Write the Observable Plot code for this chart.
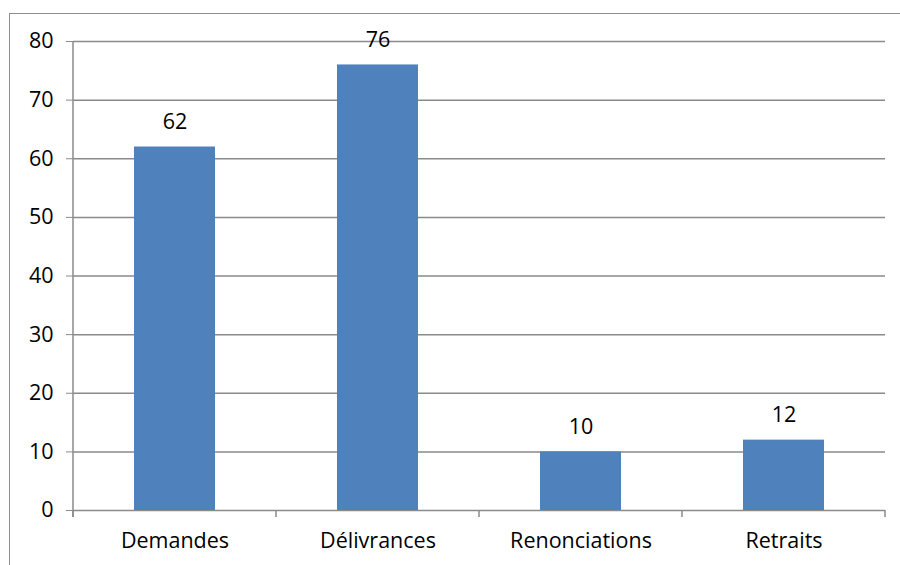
<!DOCTYPE html>
<html>
<head>
<meta charset="utf-8">
<script src="https://cdn.jsdelivr.net/npm/d3@7"></script>
<script src="https://cdn.jsdelivr.net/npm/@observablehq/plot@0.6"></script>
<style>
  html, body { margin: 0; padding: 0; background: #fff; }
  #wrap { position: relative; width: 900px; height: 565px; overflow: hidden; }
  #border { position: absolute; left: 9px; top: 13px; width: 1000px; height: 1000px; border: 1.5px solid #8e8e8e; box-sizing: border-box; }
  #chart { position: absolute; left: 0; top: 0; }
</style>
</head>
<body>
<div id="wrap"><div id="border"></div><div id="chart"></div></div>
<script>
const categories = ["Demandes", "Délivrances", "Renonciations", "Retraits"];
const values = [62, 76, 10, 12];
const yTicks = [0, 10, 20, 30, 40, 50, 60, 70, 80];

const data = categories.map((c, i) => ({category: c, value: values[i]}));
const gridColor = "#8a8a8a";
const font = "'Open Sans', sans-serif";
const fs = 21.5;

const plot = Plot.plot({
  width: 900,
  height: 565,
  marginLeft: 73,
  marginRight: 15,
  marginTop: 41,
  marginBottom: 55,
  style: {fontFamily: font, fontSize: fs + "px", color: "#000", background: "transparent"},
  x: {domain: categories, paddingInner: 0.6, paddingOuter: 0.3, label: null},
  y: {domain: [0, 80], ticks: yTicks, label: null},
  marks: [
    Plot.ruleY(yTicks, {stroke: gridColor, strokeWidth: 1.5}),
    Plot.barY(data, {x: "category", y: "value", fill: "#4F81BD"}),
    Plot.text(data, {x: "category", y: "value", text: d => String(d.value), dy: -25, fontSize: fs, fill: "#000"}),
    Plot.axisY({ticks: yTicks, tickSize: 7, tickPadding: 13, stroke: gridColor, fill: "#000", tickFormat: d => String(d), fontSize: fs, label: null}),
    Plot.axisX({tickSize: 0, tickPadding: 22, fill: "#000", fontSize: fs, label: null})
  ]
});
document.getElementById("chart").appendChild(plot);

// axis line and category-boundary ticks, from the plot's scales
const xs = plot.scale("x"), ys = plot.scale("y");
const half = (xs.step - xs.bandwidth) / 2;
const bounds = categories.map(c => xs.apply(c) - half);
bounds.push(xs.apply(categories[categories.length - 1]) + xs.bandwidth + half);
const y0 = ys.apply(0), yTop = ys.apply(80);
const svg = d3.select(plot);
svg.append("line").attr("x1", bounds[0]).attr("x2", bounds[0]).attr("y1", yTop).attr("y2", y0 + 7)
  .attr("stroke", gridColor).attr("stroke-width", 1.5);
svg.append("g").selectAll("line").data(bounds).join("line")
  .attr("x1", d => d).attr("x2", d => d).attr("y1", y0).attr("y2", y0 + 7)
  .attr("stroke", gridColor).attr("stroke-width", 1.5);
</script>
</body>
</html>
